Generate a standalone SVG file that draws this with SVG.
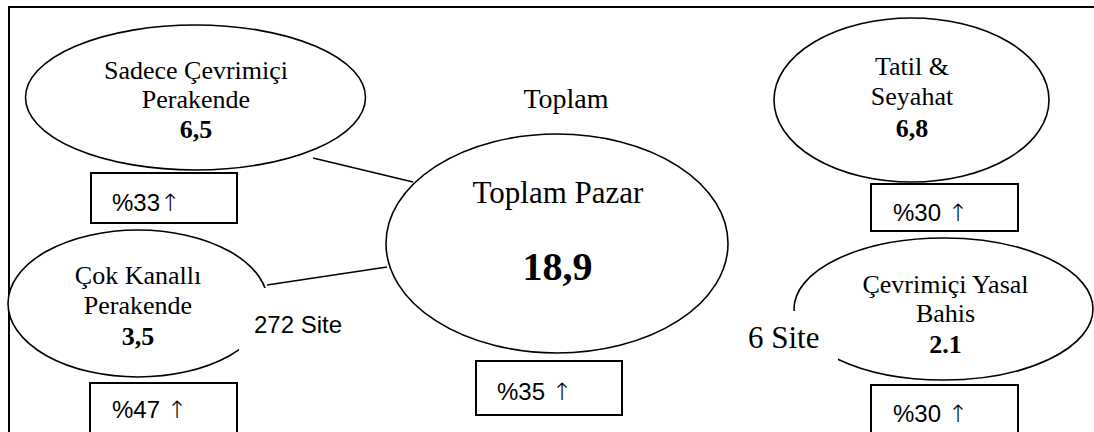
<svg xmlns="http://www.w3.org/2000/svg" width="1094" height="432" viewBox="0 0 1094 432">
<style>
.bg{fill:#fff}
.ell{fill:#fff;stroke:#000;stroke-width:1.6}
.box{fill:#fff;stroke:#000;stroke-width:2}
.frame{fill:none;stroke:#000;stroke-width:2}
.conn{stroke:#000;stroke-width:1.6;fill:none}
.mask{fill:#fff;stroke:none}
.serif{font-family:"Liberation Serif","Times New Roman",serif;fill:#000}
.sans{font-family:"Liberation Sans",Arial,sans-serif;fill:#000}
.arr{font-family:"DejaVu Sans",sans-serif;font-weight:200;fill:#000}
.nt{font-size:26px;text-anchor:middle}
.b{font-weight:bold}
.pct{font-size:24px}
</style>
<rect class="bg" x="0" y="0" width="1094" height="432"/>
<path class="frame" d="M9 432 V7 H1094"/>
<g id="connectors">
<line class="conn" x1="313" y1="158" x2="413" y2="182"/>
<line class="conn" x1="267" y1="285" x2="387" y2="267"/>
</g>
<g id="node-sadece">
<ellipse class="ell" cx="195.5" cy="97.5" rx="170" ry="72.5"/>
<text class="serif nt" x="196" y="79">Sadece Çevrimiçi</text>
<text class="serif nt" x="196" y="108">Perakende</text>
<text class="serif nt b" x="196" y="138">6,5</text>
</g>
<g id="box-33">
<rect class="box" x="91" y="173" width="146" height="50"/>
<text class="sans pct" x="112" y="211">%33<tspan class="arr">↑</tspan></text>
</g>
<g id="node-cok">
<ellipse class="ell" cx="138" cy="303.5" rx="130" ry="73.5"/>
<rect class="mask" x="239" y="288" width="112" height="70"/>
<text class="serif nt" x="138" y="284">Çok Kanallı</text>
<text class="serif nt" x="138" y="314">Perakende</text>
<text class="serif nt b" x="138" y="345">3,5</text>
<text class="sans" font-size="24" x="254" y="333">272 Site</text>
</g>
<g id="box-47">
<rect class="box" x="90" y="383" width="147" height="60"/>
<text class="sans pct" x="112" y="418">%47 <tspan class="arr">↑</tspan></text>
</g>
<g id="node-toplam">
<text class="serif" font-size="28" text-anchor="middle" x="566" y="108">Toplam</text>
<ellipse class="ell" cx="557" cy="243.5" rx="171" ry="109.5"/>
<text class="serif" font-size="31" text-anchor="middle" x="558" y="203">Toplam Pazar</text>
<text class="serif b" font-size="40" text-anchor="middle" x="557.5" y="280">18,9</text>
</g>
<g id="box-35">
<rect class="box" x="476" y="361" width="146" height="54"/>
<text class="sans pct" x="497" y="400">%35 <tspan class="arr">↑</tspan></text>
</g>
<g id="node-tatil">
<ellipse class="ell" cx="911.5" cy="100" rx="137.5" ry="82"/>
<text class="serif nt" x="912" y="75">Tatil &amp;</text>
<text class="serif nt" x="912" y="105">Seyahat</text>
<text class="serif nt b" x="912" y="137">6,8</text>
</g>
<g id="box-30a">
<rect class="box" x="871" y="184" width="147" height="47"/>
<text class="sans pct" x="893" y="221">%30 <tspan class="arr">↑</tspan></text>
</g>
<g id="node-bahis">
<ellipse class="ell" cx="943.5" cy="309" rx="149.5" ry="71"/>
<rect class="mask" x="744" y="311" width="94" height="60"/>
<text class="serif nt" x="945.5" y="293">Çevrimiçi Yasal</text>
<text class="serif nt" x="945.5" y="322">Bahis</text>
<text class="serif nt b" x="945.5" y="353">2.1</text>
<text class="serif" font-size="31" x="748" y="348">6 Site</text>
</g>
<g id="box-30b">
<rect class="box" x="871" y="385" width="147" height="60"/>
<text class="sans pct" x="893" y="422">%30 <tspan class="arr">↑</tspan></text>
</g>
</svg>
